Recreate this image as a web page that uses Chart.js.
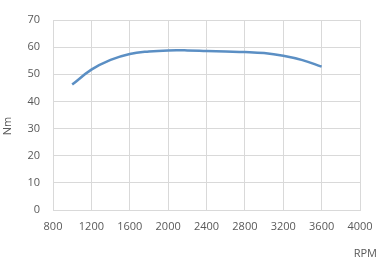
<!DOCTYPE html>
<html>
<head>
    <title>Torque curve</title>
    <style>
        body { margin: 0; padding: 0; background: #fff; }
        #chartBox { width: 378px; height: 260px; }
    </style>
    <script src="https://cdn.jsdelivr.net/npm/chart.js"></script>
</head>
<body>
    <div id="chartBox">
        <canvas id="torqueChart"></canvas>
    </div>

    <script>
        // engine speed (RPM) and torque (Nm)
        const rpm = [1000, 1200, 1400, 1600, 1800, 2000, 2200, 2400, 2600, 2800, 3000, 3200, 3400, 3600];
        const torque = [46.2, 51.7, 55.3, 57.5, 58.4, 58.8, 58.8, 58.6, 58.4, 58.2, 57.8, 56.8, 55.2, 52.8];

        const xTitle = 'RPM';
        const yTitle = 'Nm';

        const tickFont = { family: 'Open Sans', size: 11 };
        const textColor = '#595959';
        const gridColor = '#d9d9d9';

        // axis titles placed like the Excel original
        const axisTitles = {
            id: 'axisTitles',
            afterDraw(chart) {
                const ctx = chart.ctx;
                ctx.save();
                ctx.font = '11px "Open Sans"';
                ctx.fillStyle = textColor;
                ctx.textAlign = 'right';
                ctx.textBaseline = 'middle';
                ctx.fillText(xTitle, chart.width - 1, 254);
                ctx.translate(8, 126);
                ctx.rotate(-Math.PI / 2);
                ctx.textAlign = 'center';
                ctx.fillText(yTitle, 0, 0);
                ctx.restore();
            }
        };

        new Chart(document.getElementById('torqueChart'), {
            type: 'line',
            data: {
                datasets: [{
                    data: rpm.map((r, i) => ({ x: r, y: torque[i] })),
                    borderColor: '#5b8fc4',
                    borderWidth: 2.5,
                    pointRadius: 0,
                    tension: 0.4,
                    fill: false
                }]
            },
            options: {
                responsive: true,
                maintainAspectRatio: false,
                animation: false,
                layout: { padding: { top: 20, right: 18, left: 0, bottom: 0 } },
                plugins: {
                    legend: { display: false },
                    tooltip: { enabled: false }
                },
                scales: {
                    x: {
                        type: 'linear',
                        min: 800,
                        max: 4000,
                        afterFit: s => { s.height = 50; s.paddingRight = 0; s.paddingLeft = 0; },
                        ticks: {
                            stepSize: 400, font: tickFont, color: textColor, padding: 10, maxRotation: 0,
                            callback: v => String(v)
                        },
                        grid: { color: gridColor, drawTicks: false },
                        border: { color: gridColor }
                    },
                    y: {
                        min: 0,
                        max: 70,
                        afterFit: s => { s.width = 53; },
                        ticks: { stepSize: 10, font: tickFont, color: textColor, padding: 13 },
                        grid: { color: gridColor, drawTicks: false },
                        border: { color: gridColor }
                    }
                }
            },
            plugins: [axisTitles]
        });
    </script>
</body>
</html>
